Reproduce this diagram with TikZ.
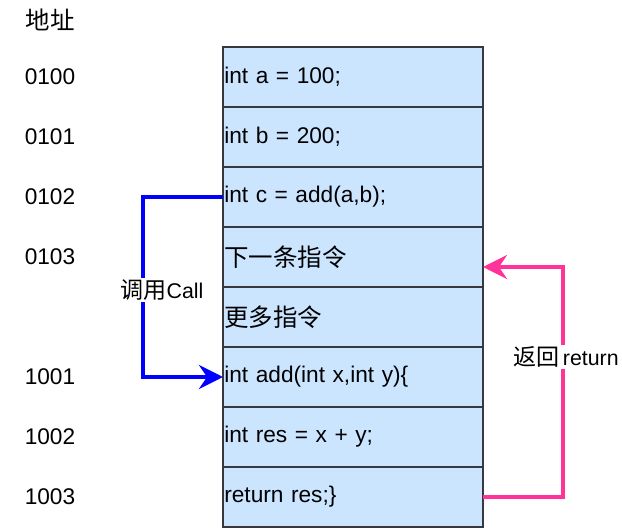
\documentclass[tikz,border=0pt]{standalone}
\usepackage{fontspec}
\setmainfont{Liberation Sans}
\newfontfamily\cjk[Scale=1.08]{Noto Sans CJK SC}
\usetikzlibrary{positioning,arrows.meta}

\definecolor{cellfill}{HTML}{CCE5FF}
\definecolor{celldraw}{HTML}{36393D}
\definecolor{callblue}{HTML}{0000FF}
\definecolor{retpink}{HTML}{FF3399}

\tikzset{
  cell/.style={draw=celldraw, fill=cellfill, line width=1.5pt, outer sep=0pt,
    minimum width=195pt, minimum height=45pt, text width=193pt, inner xsep=1pt,
    align=left, font=\fontsize{17}{19}\selectfont},
  addr/.style={font=\fontsize{17}{19}\selectfont},
  flow/.style={line width=3pt, -{Stealth[length=18pt,width=18pt,inset=6pt]}},
  tag/.style={fill=white, inner sep=1pt, font=\fontsize{16}{18}\selectfont}
}

\begin{document}
\begin{tikzpicture}[x={(0.75pt,0)}, y={(0,-0.75pt)}]
    \useasboundingbox (0,0) rectangle (622,530);

    % memory cells
    \node[cell] (r1) at (353,77) {int a = 100;};
    \node[cell, below=0pt of r1] (r2) {int b = 200;};
    \node[cell, below=0pt of r2] (r3) {int c = add(a,b);};
    \node[cell, below=0pt of r3] (r4) {\cjk 下一条指令};
    \node[cell, below=0pt of r4] (r5) {\cjk 更多指令};
    \node[cell, below=0pt of r5] (r6) {int add(int x,int y)\{};
    \node[cell, below=0pt of r6] (r7) {int res = x + y;};
    \node[cell, below=0pt of r7] (r8) {return res;\}};

    % addresses
    \node[addr] (head) at (50,20) {\cjk 地址};
    \node[addr] (a1) at (50,77) {0100};
    \node[addr] (a2) at (50,137) {0101};
    \node[addr] (a3) at (50,197) {0102};
    \node[addr] (a4) at (50,257) {0103};
    \node[addr] (a6) at (50,377) {1001};
    \node[addr] (a7) at (50,437) {1002};
    \node[addr] (a8) at (50,497) {1003};

    % call
    \draw[flow, callblue] (r3.west) -- ++(-80,0) |- (r6.west);
    \node[tag] (call) at (162,290) {{\cjk 调用}Call};

    % return
    \draw[flow, retpink] (r8.east) -- ++(80,0) |- ([yshift=-7.5pt]r4.east);
    \node[tag] (ret) at (566,357) {{\cjk 返回}\,return};

\end{tikzpicture}
\end{document}
